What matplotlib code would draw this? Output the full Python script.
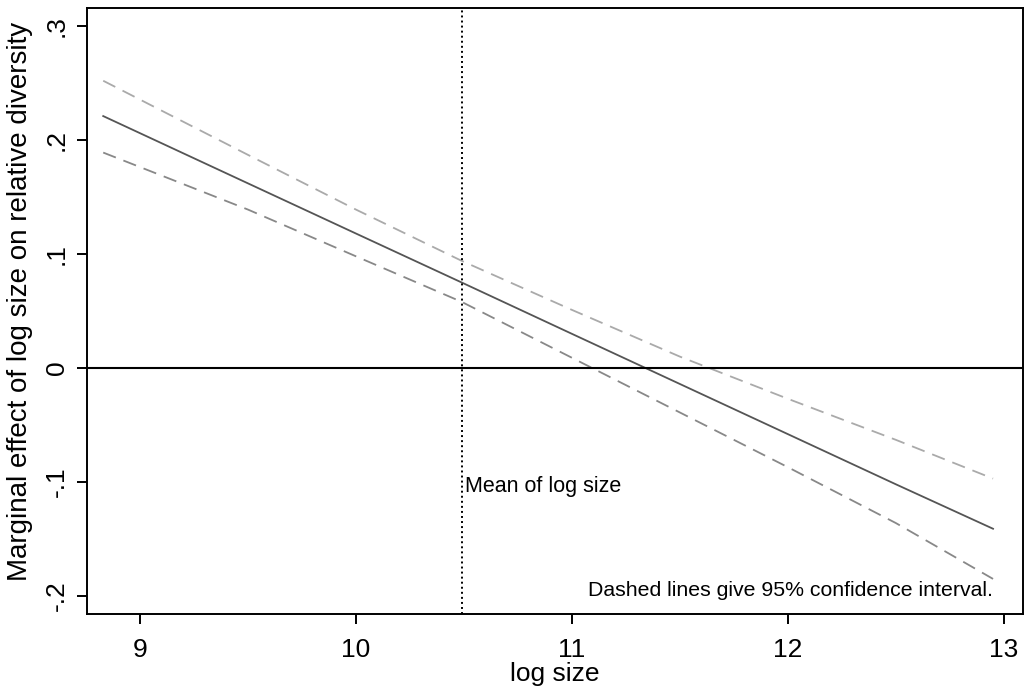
import matplotlib
matplotlib.use('Agg')
import matplotlib.pyplot as plt

log_size = [8.83, 9.5, 10.0, 10.49, 11.0, 11.5, 12.0, 12.5, 12.95]

# marginal effect and its 95% CI
effect = [0.221, 0.162, 0.118, 0.075, 0.030, -0.014, -0.058, -0.102, -0.141]
ci_upper = [0.252, 0.187, 0.139, 0.094, 0.051, 0.010, -0.027, -0.063, -0.097]
ci_lower = [0.189, 0.139, 0.098, 0.058, 0.009, -0.039, -0.087, -0.136, -0.185]

mean_log_size = 10.49

x_ticks = [9, 10, 11, 12, 13]
y_ticks = [-0.2, -0.1, 0, 0.1, 0.2, 0.3]
y_tick_labels = ['-.2', '-.1', '0', '.1', '.2', '.3']

plt.rcParams['font.family'] = ['Liberation Sans', 'DejaVu Sans']

fig = plt.figure(figsize=(10.25, 6.91), dpi=100)
ax = fig.add_axes([0.0849, 0.1114, 0.913, 0.877])

ax.plot(log_size, effect, color='#555555', lw=1.3)
ax.plot(log_size, ci_upper, color='#aaaaaa', lw=1.3, dashes=(7.5, 4.5))
ax.plot(log_size, ci_lower, color='#888888', lw=1.3, dashes=(7.5, 4.5))

ax.axhline(0, color='black', lw=1.5)
ax.axvline(mean_log_size, color='black', lw=1.4, linestyle=(0, (1, 1.6)))

ax.annotate('Mean of log size', xy=(mean_log_size, -0.104), xytext=(2, 0),
            textcoords='offset points', ha='left', va='center', fontsize=15.5)
ax.text(12.95, -0.195, 'Dashed lines give 95% confidence interval.',
        ha='right', va='center', fontsize=15.3)

ax.set_xlim(8.755, 13.088)
ax.set_ylim(-0.2158, 0.3158)
ax.set_xticks(x_ticks)
ax.set_xticklabels([str(t) for t in x_ticks])
ax.set_yticks(y_ticks)
ax.set_yticklabels(y_tick_labels, rotation=90, va='center')

ax.tick_params(axis='both', direction='out', length=7, width=1.4,
               labelsize=19, pad=6)
ax.tick_params(axis='x', pad=10)
for s in ax.spines.values():
    s.set_linewidth(1.4)

ax.set_xlabel('log size', fontsize=19, labelpad=0)
ax.set_ylabel('Marginal effect of log size on relative diversity', fontsize=20)
ax.yaxis.set_label_coords(-0.058, 0.516)

fig.savefig('out.png', dpi=100)
